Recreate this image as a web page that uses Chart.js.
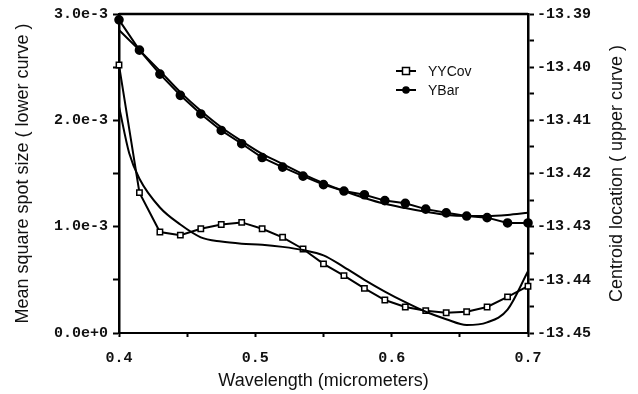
<!DOCTYPE html>
<html>
<head>
<meta charset="utf-8">
<script src="https://cdn.jsdelivr.net/npm/chart.js@4.4.0/dist/chart.umd.min.js"></script>
<style>
  body { margin: 0; background: #fff; }
  #wrap { width: 638px; height: 394px; }
</style>
</head>
<body>
<div id="wrap"><canvas id="spotChart" width="638" height="394"></canvas></div>
<script>
// wavelength samples (micrometers)
const wavelength = [0.4, 0.415, 0.43, 0.445, 0.46, 0.475, 0.49, 0.505, 0.52, 0.535, 0.55,
                    0.565, 0.58, 0.595, 0.61, 0.625, 0.64, 0.655, 0.67, 0.685, 0.7];

// mean square spot size, left axis
const yyCov = [2.52e-3, 1.32e-3, 0.95e-3, 0.92e-3, 0.98e-3, 1.02e-3, 1.04e-3, 0.98e-3, 0.90e-3, 0.79e-3, 0.65e-3,
               0.54e-3, 0.42e-3, 0.31e-3, 0.245e-3, 0.21e-3, 0.19e-3, 0.20e-3, 0.245e-3, 0.34e-3, 0.44e-3];

// fitted curve for the spot size
const yyCovFitX = [0.4, 0.4075, 0.415, 0.43, 0.445, 0.46, 0.475, 0.49, 0.505, 0.52, 0.535, 0.55,
                   0.565, 0.58, 0.595, 0.61, 0.625, 0.64, 0.655, 0.67, 0.685, 0.7];
const yyCovFit = [2.13e-3, 1.69e-3, 1.45e-3, 1.18e-3, 1.02e-3, 0.90e-3, 0.86e-3, 0.84e-3, 0.83e-3, 0.81e-3, 0.78e-3, 0.73e-3,
                  0.62e-3, 0.50e-3, 0.39e-3, 0.29e-3, 0.20e-3, 0.13e-3, 0.075e-3, 0.10e-3, 0.22e-3, 0.58e-3];

// centroid location, right axis
const yBar = [-13.3911, -13.3968, -13.4013, -13.4053, -13.4088, -13.4119, -13.4144, -13.4170, -13.4188, -13.4205, -13.4221,
              -13.4233, -13.4240, -13.4251, -13.4256, -13.4267, -13.4274, -13.4280, -13.4283, -13.4293, -13.4293];
const yBarFit = [-13.3930, -13.3968, -13.4007, -13.4047, -13.4082, -13.4113, -13.4139, -13.4163, -13.4182, -13.4201, -13.4218,
                 -13.4233, -13.4246, -13.4257, -13.4265, -13.4272, -13.4278, -13.4280, -13.4280, -13.4278, -13.4274];

const legendNames = ["YYCov", "YBar"];

const monoFont = { family: "'Liberation Mono', 'DejaVu Sans Mono', monospace", size: 15, weight: "bold" };
const sansFont = { family: "'Liberation Sans', Arial, sans-serif", size: 18 };

function pts(xs, ys) {
  return xs.map((x, i) => ({ x: x, y: ys[i] }));
}

/* ===== top frame, right title, legend ===== */
const extras = {
  id: "extras",
  afterDraw(chart) {
    const ctx = chart.ctx;
    const a = chart.chartArea;
    ctx.save();
    // top frame line
    ctx.strokeStyle = "#000";
    ctx.lineWidth = 2.5;
    ctx.beginPath();
    ctx.moveTo(a.left, a.top);
    ctx.lineTo(a.right, a.top);
    ctx.stroke();

    // right axis title, reading upwards
    ctx.fillStyle = "#111";
    ctx.font = "18px 'Liberation Sans', Arial, sans-serif";
    ctx.textAlign = "center";
    ctx.textBaseline = "middle";
    ctx.translate(617, (a.top + a.bottom) / 2);
    ctx.rotate(-Math.PI / 2);
    ctx.fillText("Centroid location ( upper curve )", 0, 0);
    ctx.restore();

    // legend
    ctx.save();
    ctx.font = "14px 'Liberation Sans', Arial, sans-serif";
    ctx.textBaseline = "middle";
    ctx.textAlign = "left";
    legendNames.forEach((name, i) => {
      const y = 71 + i * 19;
      ctx.strokeStyle = "#000";
      ctx.lineWidth = 2;
      ctx.beginPath();
      ctx.moveTo(396, y);
      ctx.lineTo(416, y);
      ctx.stroke();
      if (i === 0) {
        ctx.fillStyle = "#fff";
        ctx.lineWidth = 1.5;
        ctx.fillRect(402.5, y - 3.5, 7, 7);
        ctx.strokeRect(402.5, y - 3.5, 7, 7);
      } else {
        ctx.fillStyle = "#000";
        ctx.beginPath();
        ctx.arc(406, y, 3.8, 0, Math.PI * 2);
        ctx.fill();
      }
      ctx.fillStyle = "#111";
      ctx.fillText(name, 428, y + 1);
    });
    ctx.restore();
  }
};

new Chart(document.getElementById("spotChart"), {
  type: "line",
  data: {
    datasets: [
      {
        label: "YYCov fit",
        data: pts(yyCovFitX, yyCovFit),
        yAxisID: "y",
        borderColor: "#000",
        borderWidth: 2,
        pointRadius: 0,
        cubicInterpolationMode: "monotone",
        clip: false
      },
      {
        label: "YYCov",
        data: pts(wavelength, yyCov),
        yAxisID: "y",
        borderColor: "#000",
        borderWidth: 2,
        pointStyle: "rect",
        pointRadius: 3.8,
        pointBackgroundColor: "#fff",
        pointBorderColor: "#000",
        pointBorderWidth: 1.5,
        tension: 0,
        clip: false
      },
      {
        label: "YBar fit",
        data: pts(wavelength, yBarFit),
        yAxisID: "y2",
        borderColor: "#000",
        borderWidth: 2,
        pointRadius: 0,
        cubicInterpolationMode: "monotone",
        clip: false
      },
      {
        label: "YBar",
        data: pts(wavelength, yBar),
        yAxisID: "y2",
        borderColor: "#000",
        borderWidth: 2,
        pointStyle: "circle",
        pointRadius: 3.8,
        pointBackgroundColor: "#000",
        pointBorderColor: "#000",
        tension: 0,
        clip: false
      }
    ]
  },
  options: {
    responsive: false,
    animation: false,
    layout: { padding: { top: 14 } },
    plugins: { legend: { display: false }, tooltip: { enabled: false } },
    scales: {
      x: {
        type: "linear",
        min: 0.4,
        max: 0.7,
        afterFit: s => { s.height = 61; },
        border: { color: "#000", width: 2 },
        grid: { drawOnChartArea: false, drawTicks: true, tickLength: 4, color: "#000", tickWidth: 2 },
        ticks: {
          stepSize: 0.05,
          autoSkip: false,
          maxRotation: 0,
          padding: 12,
          color: "#111",
          font: monoFont,
          callback: v => (Math.round(v * 20) % 2 === 0 ? v.toFixed(1) : "")
        },
        title: { display: true, text: "Wavelength (micrometers)", color: "#111", font: sansFont, padding: { top: 0, bottom: 2 } }
      },
      y: {
        position: "left",
        min: 0,
        max: 3.0e-3,
        afterFit: s => { s.width = 119; },
        border: { color: "#000", width: 2.5 },
        grid: { drawOnChartArea: false, drawTicks: true, tickLength: 6, color: "#000", tickWidth: 2 },
        ticks: {
          stepSize: 0.5e-3,
          autoSkip: false,
          padding: 5,
          color: "#111",
          font: monoFont,
          callback: v => {
            const m = Math.round(v * 2000);
            if (m % 2 !== 0) return "";
            return m === 0 ? "0.0e+0" : (m / 2).toFixed(1) + "e-3";
          }
        },
        title: { display: true, text: "Mean square spot size ( lower curve )", color: "#111", font: sansFont, padding: { top: 12, bottom: 0 } }
      },
      y2: {
        position: "right",
        min: -13.45,
        max: -13.39,
        afterFit: s => { s.width = 110; },
        border: { color: "#000", width: 2.5 },
        grid: { drawOnChartArea: false, drawTicks: true, tickLength: 6, color: "#000", tickWidth: 2 },
        ticks: {
          stepSize: 0.005,
          autoSkip: false,
          padding: 3,
          color: "#111",
          font: monoFont,
          callback: v => (Math.round(v * 200) % 2 === 0 ? v.toFixed(2) : "")
        }
      }
    }
  },
  plugins: [extras]
});
</script>
</body>
</html>
